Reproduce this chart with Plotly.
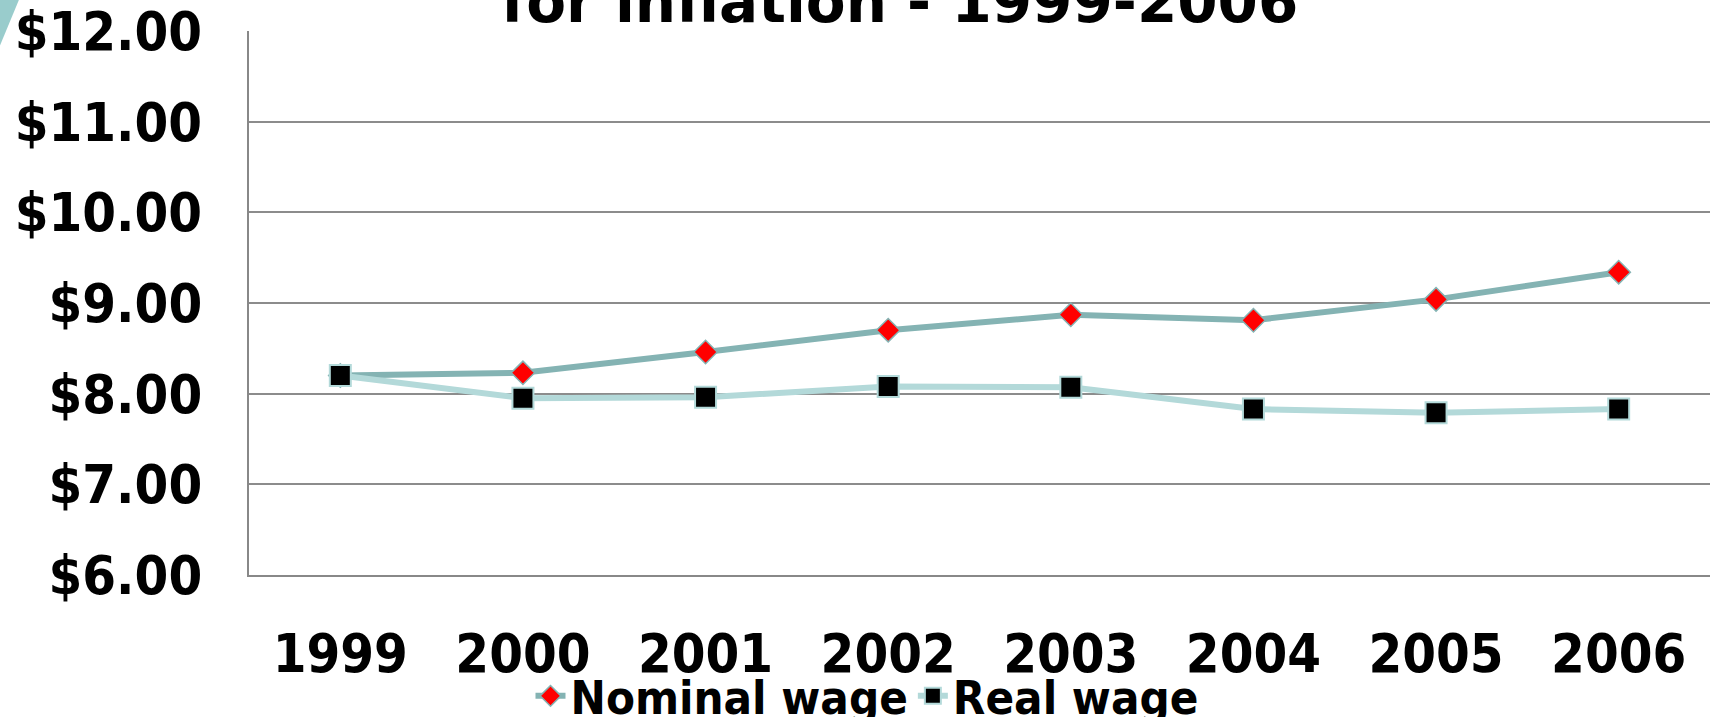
import plotly.graph_objects as go

# Hourly wage series, dollars
years = ["1999", "2000", "2001", "2002", "2003", "2004", "2005", "2006"]
nominal_wage = [8.20, 8.23, 8.46, 8.70, 8.87, 8.81, 9.04, 9.34]
real_wage = [8.20, 7.95, 7.96, 8.08, 8.07, 7.83, 7.79, 7.83]

y_ticks = [6, 7, 8, 9, 10, 11, 12]
y_tick_labels = ["$6.00", "$7.00", "$8.00", "$9.00", "$10.00", "$11.00", "$12.00"]

title_text = "for inflation - 1999-2006"

FONT = "DejaVu Sans, Verdana, sans-serif"
FONT_COND = "DejaVu Sans Condensed, DejaVu Sans, sans-serif"
NOMINAL_LINE = "#84B3B3"
REAL_LINE = "#B3D9D9"

fig = go.Figure()

fig.add_trace(go.Scatter(
    x=years, y=nominal_wage, name="Nominal wage",
    mode="lines+markers",
    line=dict(color=NOMINAL_LINE, width=6),
    marker=dict(symbol="diamond", size=18, color="#FF0000",
                line=dict(color=NOMINAL_LINE, width=1.5)),
))
fig.add_trace(go.Scatter(
    x=years, y=real_wage, name="Real wage",
    mode="lines+markers",
    line=dict(color=REAL_LINE, width=6),
    marker=dict(symbol="square", size=21, color="#000000",
                line=dict(color=REAL_LINE, width=2)),
))

# Title (first line runs off the top of the page)
fig.add_annotation(
    text=title_text, xref="paper", yref="paper",
    x=0.4455, y=1.054, xanchor="center", yanchor="middle",
    showarrow=False, font=dict(family=FONT, size=58, color="#000000", weight="bold"),
)

# Teal corner accent of the slide background
fig.add_shape(
    type="path", xref="paper", yref="paper",
    path="M -0.1705 1.07 L -0.1555 1.07 L -0.1705 0.973 Z",
    fillcolor="#99CCCC", line=dict(width=0), layer="above",
)

fig.update_layout(
    width=1710, height=717,
    margin=dict(l=249, r=0, t=31, b=142, pad=0, autoexpand=False),
    paper_bgcolor="#FFFFFF", plot_bgcolor="#FFFFFF",
    font=dict(family=FONT_COND, color="#000000", weight="bold"),
    showlegend=True,
    legend=dict(
        orientation="h", x=0.423, y=-0.223, xanchor="center", yanchor="middle",
        font=dict(family=FONT_COND, size=47, color="#000000", weight="bold"),
        bgcolor="rgba(0,0,0,0)", itemsizing="trace",
    ),
)

fig.update_xaxes(
    type="category", range=[-0.5, 7.5], automargin=False,
    showgrid=False, showline=True, linecolor="#888888", linewidth=2,
    ticks="outside", ticklen=30, tickcolor="rgba(0,0,0,0)",
    ticklabeloverflow="allow",
    tickfont=dict(family=FONT_COND, size=54, color="#000000", weight="bold"),
    zeroline=False,
)
fig.update_yaxes(
    range=[6, 12], tickvals=y_ticks, ticktext=y_tick_labels, automargin=False,
    showgrid=True, gridcolor="#8C8C8C", gridwidth=2,
    showline=True, linecolor="#888888", linewidth=2,
    ticks="outside", ticklen=34, tickcolor="rgba(0,0,0,0)",
    ticklabeloverflow="allow",
    tickfont=dict(family=FONT_COND, size=54, color="#000000", weight="bold"),
    zeroline=False,
)

fig.write_html("out.html")
